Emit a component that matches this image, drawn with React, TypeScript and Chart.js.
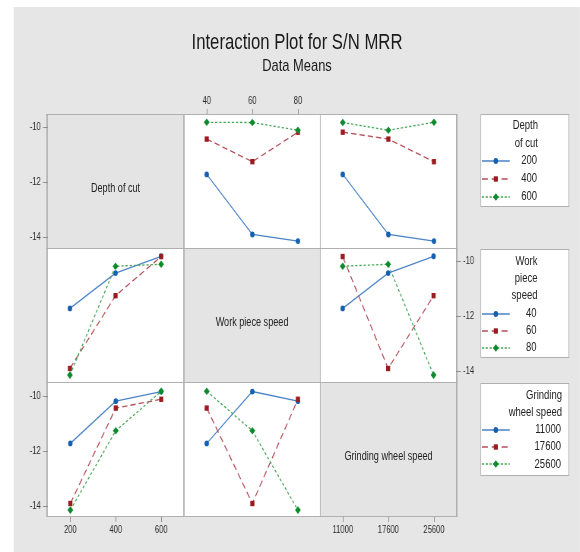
import React, { useEffect, useRef } from "react";
import { Chart, registerables } from "chart.js";
Chart.register(...registerables);

// horizontal compression of the whole figure (reference is squeezed)
const S = 0.76;
const X = (v: number) => v / S;
const FONT = "'Liberation Sans', Arial, Helvetica, sans-serif";

// ---------- data ----------
const docLevels = ["200", "400", "600"];
const wpsLevels = ["40", "60", "80"];
const gwsLevels = ["11000", "17600", "25600"];
const yTickValues = [-14, -12, -10];
const yMin = -14.38;
const yMax = -9.52;

// Depth of cut traces vs Work piece speed
const doc200VsWps = [-11.71, -13.89, -14.13];
const doc400VsWps = [-10.43, -11.25, -10.18];
const doc600VsWps = [-9.82, -9.83, -10.11];
// Depth of cut traces vs Grinding wheel speed
const doc200VsGws = [-11.71, -13.89, -14.13];
const doc400VsGws = [-10.18, -10.43, -11.25];
const doc600VsGws = [-9.83, -10.11, -9.82];
// Work piece speed traces vs Depth of cut
const wps40VsDoc = [-11.71, -10.43, -9.82];
const wps60VsDoc = [-13.89, -11.25, -9.83];
const wps80VsDoc = [-14.13, -10.18, -10.11];
// Work piece speed traces vs Grinding wheel speed
const wps40VsGws = [-11.71, -10.43, -9.82];
const wps60VsGws = [-9.83, -13.89, -11.25];
const wps80VsGws = [-10.18, -10.11, -14.13];
// Grinding wheel speed traces vs Depth of cut
const gws11000VsDoc = [-11.71, -10.18, -9.83];
const gws17600VsDoc = [-13.89, -10.43, -10.11];
const gws25600VsDoc = [-14.13, -11.25, -9.82];
// Grinding wheel speed traces vs Work piece speed
const gws11000VsWps = [-11.71, -9.83, -10.18];
const gws17600VsWps = [-10.43, -13.89, -10.11];
const gws25600VsWps = [-9.82, -11.25, -14.13];

// ---------- styles ----------
type SeriesStyle = {
  point: "circle" | "rect" | "rectRot";
  radius: number;
  marker: string;
  line: string;
  dash: number[];
  order: number;
};
const seriesStyles: SeriesStyle[] = [
  { point: "circle", radius: 2.9, marker: "#1560b0", line: "#4a82c6", dash: [], order: 3 },
  { point: "rect", radius: 3.8, marker: "#9c1b1f", line: "#b44e58", dash: [7, 4], order: 2 },
  { point: "rectRot", radius: 3.8, marker: "#0d8a2c", line: "#45a556", dash: [3, 2.5], order: 1 },
];

// geometry (real pixels)
const GL = 47.3;
const GT = 114.3;
const CW = 136.5;
const RH = 134.1;
const AXW = X(40);
const AXH = 22;

type CellSpec = {
  r: number;
  c: number;
  labels: string[];
  series: number[][];
  left?: boolean;
  right?: boolean;
  top?: boolean;
  bottom?: boolean;
  diag?: string;
};

const cells: CellSpec[] = [
  { r: 0, c: 0, labels: docLevels, series: [], left: true, diag: "Depth of cut" },
  { r: 0, c: 1, labels: wpsLevels, series: [doc200VsWps, doc400VsWps, doc600VsWps], top: true },
  { r: 0, c: 2, labels: gwsLevels, series: [doc200VsGws, doc400VsGws, doc600VsGws] },
  { r: 1, c: 0, labels: docLevels, series: [wps40VsDoc, wps60VsDoc, wps80VsDoc] },
  { r: 1, c: 1, labels: wpsLevels, series: [], diag: "Work piece speed" },
  { r: 1, c: 2, labels: gwsLevels, series: [wps40VsGws, wps60VsGws, wps80VsGws], right: true },
  { r: 2, c: 0, labels: docLevels, series: [gws11000VsDoc, gws17600VsDoc, gws25600VsDoc], left: true, bottom: true },
  { r: 2, c: 1, labels: wpsLevels, series: [gws11000VsWps, gws17600VsWps, gws25600VsWps] },
  { r: 2, c: 2, labels: gwsLevels, series: [], bottom: true, diag: "Grinding wheel speed" },
];

function zeroPad(s: any) {
  s.paddingTop = 0;
  s.paddingBottom = 0;
  s.paddingLeft = 0;
  s.paddingRight = 0;
}

function Cell({ spec }: { spec: CellSpec }) {
  const ref = useRef<HTMLCanvasElement>(null);
  const hasX = !!(spec.top || spec.bottom);
  const hasY = !!(spec.left || spec.right);
  const lw = spec.left ? AXW : 0;
  const rw = spec.right ? AXW : 0;
  const th = spec.top ? AXH : 0;
  const bh = spec.bottom ? AXH : 0;
  const pl = X(GL + spec.c * CW);
  const pt = GT + spec.r * RH;
  const w = Math.round(X(CW) + lw + rw);
  const h = Math.round(RH + th + bh);
  useEffect(() => {
    const tickFont = { family: FONT, size: 10 };
    const chart = new Chart(ref.current as HTMLCanvasElement, {
      type: "line",
      data: {
        labels: spec.labels,
        datasets: spec.series.map((vals, i) => {
          const st = seriesStyles[i];
          return {
            data: vals,
            order: st.order,
            borderColor: st.line,
            borderWidth: 1.3,
            borderDash: st.dash,
            backgroundColor: st.marker,
            pointStyle: st.point,
            pointRadius: st.radius,
            pointBackgroundColor: st.marker,
            pointBorderColor: st.marker,
            pointBorderWidth: 0,
            tension: 0,
            fill: false,
            clip: false as any,
          };
        }),
      },
      options: {
        animation: false,
        responsive: false,
        maintainAspectRatio: false,
        events: [],
        layout: { padding: 0, autoPadding: false },
        plugins: { legend: { display: false }, tooltip: { enabled: false }, title: { display: false } },
        scales: {
          x: {
            type: "category",
            offset: true,
            display: hasX,
            position: spec.top ? "top" : "bottom",
            grid: { display: true, drawOnChartArea: false, drawTicks: true, tickLength: 5, color: "#8f8f8f" },
            border: { display: false },
            ticks: { color: "#2a2a2a", font: tickFont, padding: 2, maxRotation: 0, autoSkip: false },
            afterFit: (s: any) => {
              s.height = hasX ? AXH : 0;
              zeroPad(s);
            },
          },
          y: {
            type: "linear",
            min: yMin,
            max: yMax,
            display: hasY,
            position: spec.left ? "left" : "right",
            afterBuildTicks: (s: any) => {
              s.ticks = yTickValues.map((v) => ({ value: v }));
            },
            grid: { display: true, drawOnChartArea: false, drawTicks: true, tickLength: 6, color: "#8f8f8f" },
            border: { display: false },
            ticks: { color: "#2a2a2a", font: tickFont, padding: 3 },
            afterFit: (s: any) => {
              s.width = hasY ? AXW : 0;
              zeroPad(s);
            },
          },
        },
      } as any,
    });
    return () => chart.destroy();
  }, []);
  return (
    <canvas
      ref={ref}
      width={w}
      height={h}
      style={{ position: "absolute", left: pl - lw, top: pt - th, width: w, height: h }}
    />
  );
}

function Txt({
  x,
  y,
  text,
  size,
  align = "center",
  color = "#222",
}: {
  x: number;
  y: number;
  text: string;
  size: number;
  align?: "center" | "right" | "left";
  color?: string;
}) {
  const w = 600;
  const left = align === "center" ? X(x) - w / 2 : align === "right" ? X(x) - w : X(x);
  return (
    <div
      style={{
        position: "absolute",
        left,
        top: y - size * 0.62,
        width: w,
        height: size * 1.2,
        lineHeight: `${size * 1.2}px`,
        fontSize: size,
        fontFamily: FONT,
        color,
        textAlign: align,
        whiteSpace: "nowrap",
      }}
    >
      {text}
    </div>
  );
}

function Sample({ st, yc }: { st: SeriesStyle; yc: number }) {
  const w = X(28);
  const h = 12;
  const cx = X(14);
  const cy = 6;
  let marker: React.ReactNode = null;
  if (st.point === "circle") marker = <circle cx={cx} cy={cy} r={3} fill={st.marker} />;
  else if (st.point === "rect") {
    const s = st.radius * Math.SQRT1_2;
    marker = <rect x={cx - s} y={cy - s} width={2 * s} height={2 * s} fill={st.marker} />;
  } else {
    const r = st.radius;
    marker = <polygon points={`${cx - r},${cy} ${cx},${cy - r} ${cx + r},${cy} ${cx},${cy + r}`} fill={st.marker} />;
  }
  return (
    <svg style={{ position: "absolute", left: X(482), top: yc - cy }} width={w} height={h}>
      <line
        x1={0}
        y1={cy}
        x2={w}
        y2={cy}
        stroke={st.line}
        strokeWidth={1.3}
        strokeDasharray={st.point === "rect" ? "8 5" : st.point === "rectRot" ? "3 2" : undefined}
      />
      {marker}
    </svg>
  );
}

type LegendSpec = { top: number; height: number; titles: string[]; titleYs: number[]; items: string[]; itemYs: number[]; rightX: number };
const legends: LegendSpec[] = [
  { top: 114.3, height: 93, titles: ["Depth", "of cut"], titleYs: [125.5, 143.5], items: docLevels, itemYs: [161, 179, 196.5], rightX: 538 },
  { top: 249, height: 109.3, titles: ["Work", "piece", "speed"], titleYs: [261.5, 278.8, 296], items: wpsLevels, itemYs: [313.8, 330.8, 347.5], rightX: 537.5 },
  { top: 383.3, height: 92.7, titles: ["Grinding", "wheel speed"], titleYs: [395.3, 412.5], items: gwsLevels, itemYs: [429.5, 447, 464.3], rightX: 562 },
];

export default function App() {
  const lineColor = "#b0b0b0";
  const lines: React.ReactNode[] = [];
  for (let k = 0; k <= 3; k++) {
    lines.push(
      <div key={"v" + k} style={{ position: "absolute", left: X(GL + k * CW) - 0.9, top: GT - 0.6, width: 1.8, height: 3 * RH + 1.2, background: lineColor }} />
    );
    lines.push(
      <div key={"h" + k} style={{ position: "absolute", left: X(GL) - 0.9, top: GT + k * RH - 0.6, width: X(3 * CW) + 1.8, height: 1.2, background: lineColor }} />
    );
  }
  return (
    <div style={{ position: "absolute", left: 0, top: 0, width: 580, height: 552, background: "#fff", overflow: "hidden" }}>
      <div style={{ position: "absolute", left: 0, top: 0, width: X(580), height: 552, transform: `scaleX(${S})`, transformOrigin: "0 0" }}>
        <div style={{ position: "absolute", left: X(14), top: 7.4, width: X(580 - 14), height: 552 - 7.4, background: "#e6e6e6" }} />
        {cells.map((c) => (
          <div
            key={"bg" + c.r + c.c}
            style={{
              position: "absolute",
              left: X(GL + c.c * CW),
              top: GT + c.r * RH,
              width: X(CW),
              height: RH,
              background: c.diag ? "#e4e4e4" : "#ffffff",
            }}
          />
        ))}
        {lines}
        {legends.map((l, i) => (
          <div
            key={"lb" + i}
            style={{
              position: "absolute",
              left: X(480),
              top: l.top,
              width: X(89.5),
              height: l.height,
              background: "#fff",
              border: `1.3px solid ${lineColor}`,
              boxSizing: "border-box",
            }}
          />
        ))}
        {cells.map((c) => (
          <Cell key={"c" + c.r + c.c} spec={c} />
        ))}
        {cells
          .filter((c) => c.diag)
          .map((c) => (
            <Txt key={"d" + c.r} x={GL + (c.c + 0.5) * CW} y={GT + (c.r + 0.5) * RH + 7} text={c.diag as string} size={12} />
          ))}
        {legends.map((l, i) => (
          <React.Fragment key={"lg" + i}>
            {l.titles.map((t, j) => (
              <Txt key={"t" + j} x={l.rightX} y={l.titleYs[j]} text={t} size={12.5} align="right" />
            ))}
            {l.items.map((t, j) => (
              <React.Fragment key={"it" + j}>
                <Sample st={seriesStyles[j]} yc={l.itemYs[j]} />
                <Txt x={l.rightX - 1} y={l.itemYs[j]} text={t} size={12.5} align="right" />
              </React.Fragment>
            ))}
          </React.Fragment>
        ))}
        <div
          style={{
            position: "absolute",
            left: X(297) - 400,
            width: 800,
            top: 50 - 22 * 0.9465,
            height: 26.4,
            lineHeight: "26.4px",
            fontSize: 22,
            fontFamily: FONT,
            color: "#1a1a1a",
            textAlign: "center",
            whiteSpace: "nowrap",
          }}
        >
          Interaction Plot for S/N MRR
        </div>
        <div
          style={{
            position: "absolute",
            left: X(297) - 400,
            width: 800,
            top: 72 - 17 * 0.9465,
            height: 20.4,
            lineHeight: "20.4px",
            fontSize: 17,
            fontFamily: FONT,
            color: "#1a1a1a",
            textAlign: "center",
            whiteSpace: "nowrap",
          }}
        >
          Data Means
        </div>
      </div>
    </div>
  );
}
